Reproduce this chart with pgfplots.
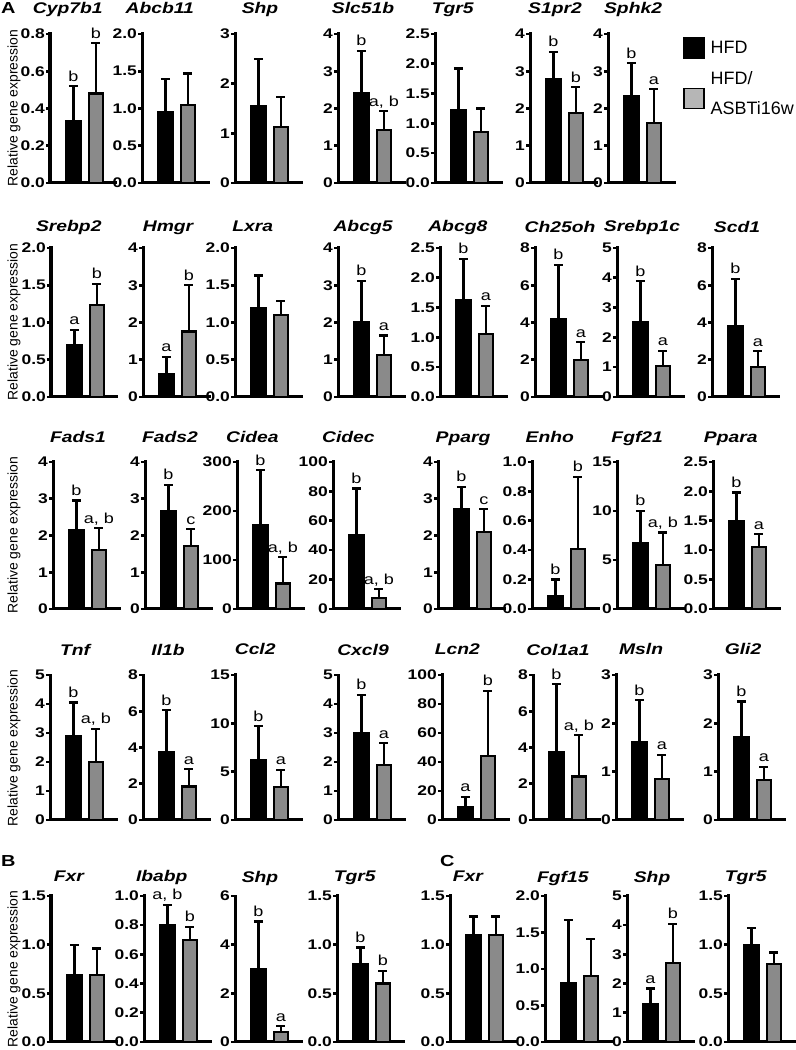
\documentclass[border=0pt]{standalone}
\usepackage{fontspec}
\usepackage{pgfplots}
\pgfplotsset{compat=1.18}
\usetikzlibrary{calc}
\newfontfamily\plain{Liberation Sans}
\newcommand\wx[1]{\scalebox{1.25}[1]{#1}}
\definecolor{bargray}{RGB}{138,138,138}
\definecolor{leggray}{RGB}{182,182,182}

\pgfplotsset{
  panel/.style={
    scale only axis, width=66bp,
    xmin=-0.05, xmax=2.9, ymin=0,
    axis x line=bottom, axis y line=left,
    axis line style={-, line width=3bp, line cap=rect},
    xtick=\empty,
    tick align=outside, major tick length=4bp,
    ytick style={line width=2.6bp, black},
    yticklabel style={font=\plain\bfseries\fontsize{14}{14}\selectfont, inner sep=1bp},
    yticklabel={\wx{\pgfmathprintnumber{\tick}}},
    scaled y ticks=false,
    /pgf/number format/fixed, /pgf/number format/fixed zerofill,
    /pgf/number format/assume math mode=true,
    clip=false,
  },
  barbase/.style={ybar, bar width=14bp, bar shift=0pt, draw=black, line width=2.2bp, forget plot,
    error bars/y dir=plus, error bars/y explicit,
    error bars/error bar style={line width=2.2bp, black},
    error bars/error mark options={rotate=90, line width=2.2bp, mark size=4.5bp, black}},
  hfd/.style={barbase, fill=black},
  asb/.style={barbase, fill=bargray},
  gpx/.style={},
}
\tikzset{lett/.style={anchor=base, yshift=5bp, inner sep=0pt, font=\plain\fontsize{14.5}{14.5}\selectfont}}

% one panel: two bars with upper error bars and letters
\pgfkeys{/gp/.is family, /gp,
  x/.store in=\gpx, y/.store in=\gpy, h/.store in=\gph, max/.store in=\gpmax,
  step/.store in=\gpstep, prec/.store in=\gpprec, title/.store in=\gptitle, ts/.store in=\gpts,
  m1/.store in=\gpma, e1/.store in=\gpea, m2/.store in=\gpmb, e2/.store in=\gpeb,
  l1/.store in=\gpla, l2/.store in=\gplb,
  extra/.code={\pgfplotsset{gpx/.style={#1}}}, code/.store in=\gpcode}

\newcommand\gpanel[1]{%
  \pgfkeys{/gp/.cd, prec=0, l1={}, l2={}, extra={}, code={}, #1}%
  \pgfmathsetmacro\gpY{1050-\gpy}%
  \pgfmathsetmacro\gpta{\gpma+\gpea}%
  \pgfmathsetmacro\gptb{\gpmb+\gpeb}%
  \begin{axis}[panel, name=ax, at={(\gpx bp,\gpY bp)}, height=\gph bp, ymax=\gpmax,
      ytick distance=\gpstep, /pgf/number format/precision=\gpprec, gpx]
    \addplot[hfd] coordinates {(1,\gpma) +- (0,\gpea)};
    \addplot[asb] coordinates {(2,\gpmb) +- (0,\gpeb)};
    \node[lett] at (axis cs:1,\gpta) {\wx{\gpla}};
    \node[lett] at (axis cs:2,\gptb) {\wx{\gplb}};
    \gpcode
  \end{axis}
  \node[font=\plain\bfseries\itshape\fontsize{15.5}{15.5}\selectfont, anchor=base]
    at ($(ax.outer south west |- ax.north)!0.5!(ax.north east)+(0,\gpts bp)$) {\wx{\gptitle}};
}

\begin{document}
\begin{tikzpicture}
\path[use as bounding box] (0,0) rectangle (796bp,1050bp);

% row 1
\gpanel{x=50, y=183, h=149, ts=20, max=0.8, step=0.2, prec=1, title=Cyp7b1, m1=0.33, e1=0.19, m2=0.48, e2=0.27, l1=b, l2=b}
\gpanel{x=142, y=183, h=149, ts=20, max=2, step=0.5, prec=1, title=Abcb11, m1=0.95, e1=0.45, m2=1.05, e2=0.42}
\gpanel{x=235, y=183, h=149, ts=20, max=3, step=1, title=Shp, m1=1.55, e1=0.95, m2=1.12, e2=0.61}
\gpanel{x=338, y=183, h=149, ts=20, max=4, step=1, title=Slc51b, m1=2.4, e1=1.15, m2=1.42, e2=0.51, l1=b, l2={a, b}}
\gpanel{x=435, y=183, h=149, ts=20, max=2.5, step=0.5, prec=1, title=Tgr5, m1=1.22, e1=0.70, m2=0.85, e2=0.40}
\gpanel{x=530, y=183, h=149, ts=20, max=4, step=1, title=S1pr2, m1=2.8, e1=0.72, m2=1.88, e2=0.69, l1=b, l2=b}
\gpanel{x=608, y=183, h=149, ts=20, max=4, step=1, title=Sphk2, m1=2.33, e1=0.89, m2=1.62, e2=0.90, l1=b, l2=a,
  extra={legend style={at={(axis description cs:1.136,0.98)}, anchor=north west, draw=none, fill=none,
    inner sep=0pt, row sep=8bp, column sep=6bp, font=\plain\fontsize{18}{26}\selectfont,
    nodes={inner sep=0pt}}, legend cell align=left},
  code={\addlegendimage{legend image code/.code={\draw[fill=black, line width=1.5bp] (0bp,-10bp) rectangle (20bp,10bp);}}
    \addlegendentry{HFD}
    \addlegendimage{legend image code/.code={\draw[fill=leggray, line width=1.5bp] (0bp,-25.2bp) rectangle (20bp,-5.2bp);}}
    \addlegendentry{\begin{tabular}{@{}l@{}}HFD/\\[4bp]ASBTi16w\end{tabular}}}}

% row 2
\gpanel{x=51, y=397, h=149, ts=16, max=2, step=0.5, prec=1, title=Srebp2, m1=0.70, e1=0.20, m2=1.24, e2=0.28, l1=a, l2=b}
\gpanel{x=143, y=397, h=149, ts=16, max=4, step=1, title=Hmgr, m1=0.62, e1=0.46, m2=1.76, e2=1.24, l1=a, l2=b}
\gpanel{x=235, y=397, h=149, ts=16, max=2, step=0.5, prec=1, title=Lxra, m1=1.19, e1=0.44, m2=1.10, e2=0.19}
\gpanel{x=338, y=397, h=149, ts=16, max=4, step=1, title=Abcg5, m1=2.02, e1=1.10, m2=1.12, e2=0.53, l1=b, l2=a}
\gpanel{x=440, y=397, h=149, ts=16, max=2.5, step=0.5, prec=1, title=Abcg8, m1=1.62, e1=0.70, m2=1.06, e2=0.47, l1=b, l2=a}
\gpanel{x=535, y=397, h=149, ts=16, max=8, step=2, title=Ch25oh, m1=4.2, e1=2.9, m2=2.0, e2=0.95, l1=b, l2=a}
\gpanel{x=617, y=397, h=149, ts=16, max=5, step=1, title=Srebp1c, m1=2.52, e1=1.36, m2=1.05, e2=0.50, l1=b, l2=a}
\gpanel{x=712, y=397, h=149, ts=16, max=8, step=2, title=Scd1, m1=3.8, e1=2.55, m2=1.6, e2=0.85, l1=b, l2=a}

% row 3
\gpanel{x=53, y=609, h=147, ts=19, max=4, step=1, title=Fads1, m1=2.15, e1=0.80, m2=1.6, e2=0.60, l1=b, l2={a, b}}
\gpanel{x=145, y=609, h=147, ts=19, max=4, step=1, title=Fads2, m1=2.67, e1=0.71, m2=1.72, e2=0.45, l1=b, l2=c}
\gpanel{x=237, y=609, h=147, ts=19, max=300, step=100, title=Cidea, m1=172, e1=111, m2=52, e2=54, l1=b, l2={a, b}}
\gpanel{x=333, y=609, h=147, ts=19, max=100, step=20, title=Cidec, m1=50, e1=32, m2=7.5, e2=6, l1=b, l2={a, b}}
\gpanel{x=438, y=609, h=147, ts=19, max=4, step=1, title=Pparg, m1=2.73, e1=0.59, m2=2.1, e2=0.62, l1=b, l2=c}
\gpanel{x=532, y=609, h=147, ts=19, max=1, step=0.2, prec=1, title=Enho, m1=0.09, e1=0.11, m2=0.41, e2=0.49, l1=b, l2=b}
\gpanel{x=617, y=609, h=147, ts=19, max=15, step=5, title=Fgf21, m1=6.7, e1=3.3, m2=4.5, e2=3.3, l1=b, l2={a, b}}
\gpanel{x=713, y=609, h=147, ts=19, max=2.5, step=0.5, prec=1, title=Ppara, m1=1.5, e1=0.48, m2=1.05, e2=0.22, l1=b, l2=a}

% row 4
\gpanel{x=50, y=820, h=145, ts=20, max=5, step=1, title=Tnf, m1=2.9, e1=1.15, m2=2.0, e2=1.15, l1=b, l2={a, b}}
\gpanel{x=143, y=820, h=145, ts=20, max=8, step=2, title=Il1b, m1=3.72, e1=2.33, m2=1.85, e2=0.95, l1=b, l2=a}
\gpanel{x=235, y=820, h=145, ts=20, max=15, step=5, title=Ccl2, m1=6.2, e1=3.5, m2=3.4, e2=1.8, l1=b, l2=a}
\gpanel{x=338, y=820, h=145, ts=20, max=5, step=1, title=Cxcl9, m1=3.0, e1=1.32, m2=1.9, e2=0.75, l1=b, l2=a}
\gpanel{x=442, y=820, h=145, ts=20, max=100, step=20, title=Lcn2, m1=9, e1=7, m2=44, e2=45, l1=a, l2=b}
\gpanel{x=533, y=820, h=145, ts=20, max=8, step=2, title=Col1a1, m1=3.75, e1=3.75, m2=2.4, e2=2.28, l1=b, l2={a, b}}
\gpanel{x=616, y=820, h=145, ts=20, max=3, step=1, title=Msln, m1=1.62, e1=0.86, m2=0.85, e2=0.50, l1=b, l2=a}
\gpanel{x=718, y=820, h=145, ts=20, max=3, step=1, title=Gli2, m1=1.72, e1=0.73, m2=0.82, e2=0.28, l1=b, l2=a}

% row 5, panels B and C
\gpanel{x=51, y=1042, h=146, ts=14, max=1.5, step=0.5, prec=1, title=Fxr, m1=0.69, e1=0.31, m2=0.69, e2=0.27}
\gpanel{x=144, y=1042, h=146, ts=14, max=1, step=0.2, prec=1, title=Ibabp, m1=0.80, e1=0.14, m2=0.70, e2=0.09, l1={a, b}, l2=b}
\gpanel{x=235, y=1042, h=146, ts=14, max=6, step=2, title=Shp, m1=3.0, e1=1.95, m2=0.4, e2=0.25, l1=b, l2=a}
\gpanel{x=337, y=1042, h=146, ts=14, max=1.5, step=0.5, prec=1, title=Tgr5, m1=0.8, e1=0.17, m2=0.6, e2=0.13, l1=b, l2=b}
\gpanel{x=450, y=1042, h=146, ts=14, max=1.5, step=0.5, prec=1, title=Fxr, m1=1.1, e1=0.19, m2=1.1, e2=0.19}
\gpanel{x=545, y=1042, h=146, ts=14, max=2, step=0.5, prec=1, title=Fgf15, m1=0.81, e1=0.86, m2=0.9, e2=0.51}
\gpanel{x=627, y=1042, h=146, ts=14, max=5, step=1, title=Shp, m1=1.3, e1=0.53, m2=2.7, e2=1.35, l1=a, l2=b}
\gpanel{x=728, y=1042, h=146, ts=14, max=1.5, step=0.5, prec=1, title=Tgr5, m1=1.0, e1=0.17, m2=0.8, e2=0.12}

% y labels and panel letters
\foreach \yy in {942,728,515,302,81}
  \node[rotate=90, font=\plain\fontsize{14}{14}\selectfont] at (14bp,\yy bp) {Relative gene expression};
\node[anchor=base west, inner sep=0pt, font=\plain\bfseries\fontsize{16}{16}\selectfont] at (1bp,1036bp) {\wx{A}};
\node[anchor=base west, inner sep=0pt, font=\plain\bfseries\fontsize{16}{16}\selectfont] at (1bp,183bp) {\wx{B}};
\node[anchor=base west, inner sep=0pt, font=\plain\bfseries\fontsize{16}{16}\selectfont] at (440bp,183bp) {\wx{C}};
\end{tikzpicture}
\end{document}
